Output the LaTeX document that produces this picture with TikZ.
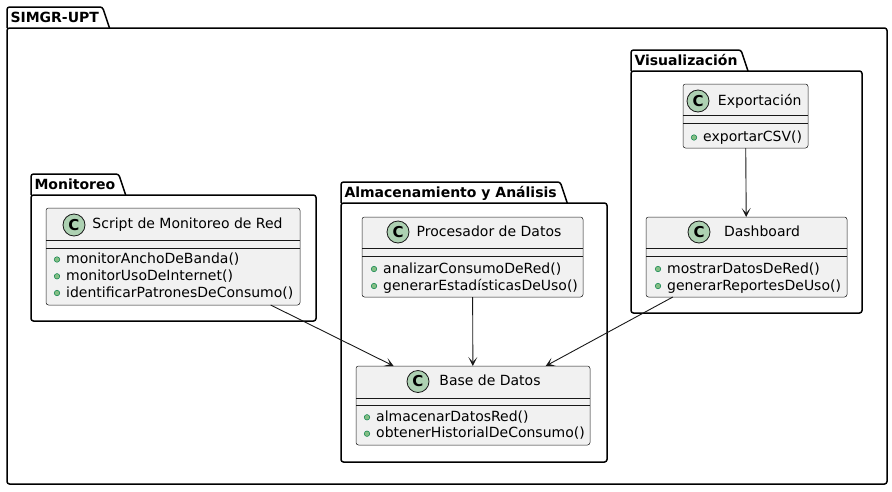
\documentclass[tikz,border=0pt]{standalone}
\usepackage{fontspec}
\setmainfont{DejaVu Sans}
\usepackage{tikz}
\usetikzlibrary{arrows.meta,positioning,calc}
\definecolor{umlBorde}{HTML}{181818}
\definecolor{umlFondo}{HTML}{F1F1F1}
\definecolor{umlInsignia}{HTML}{ADD1B2}
\definecolor{umlPublico}{HTML}{84BE84}
\definecolor{umlPublicoBorde}{HTML}{038048}
\tikzset{
  paquete/.style={draw=black, line width=1.5pt, rounded corners=2.5pt, outer sep=0pt, inner sep=0pt},
  etiqueta/.style={anchor=south west, font=\fontsize{14}{16}\selectfont\bfseries, inner xsep=3.5pt, inner ysep=0pt, minimum height=21pt, text height=10.2pt, text depth=0pt, outer sep=0pt},
  pestana/.style={draw=black, line width=1.5pt, rounded corners=2.5pt},
  clase/.style={draw=umlBorde, line width=0.5pt, fill=umlFondo, rounded corners=2.5pt, inner sep=0pt, outer sep=0pt},
  separador/.style={draw=umlBorde, line width=0.5pt},
  insignia/.style={circle, draw=umlBorde, line width=0.8pt, fill=umlInsignia, minimum size=22pt, inner sep=0pt, font=\fontsize{15}{15}\selectfont\bfseries},
  titulo/.style={font=\fontsize{14}{16}\selectfont, inner sep=0pt, text height=10.5pt, text depth=2.5pt},
  publico/.style={circle, draw=umlPublicoBorde, line width=0.5pt, fill=umlPublico, minimum size=5.5pt, inner sep=0pt, xshift=-6pt},
  metodo/.style={anchor=west, font=\fontsize{14}{16}\selectfont, inner sep=0pt, text height=10.5pt, text depth=2.5pt, label={[publico]left:{}}},
  arrflow/.style={draw=umlBorde, line width=0.9pt, -{Stealth[length=9pt, width=9pt, inset=5pt]}},
}
\begin{document}
\begin{tikzpicture}[x=1pt, y=-1pt]
\useasboundingbox (0,0) rectangle (892,491);
% paquetes
\node[paquete, minimum width=880pt, minimum height=456pt] (simgr) at (447,256) {};
\node[etiqueta] (simgr-lbl) at (simgr.north west) {SIMGR-UPT};
\draw[pestana] (simgr-lbl.south west) -- (simgr-lbl.north west) -- (simgr-lbl.north east) -- ([xshift=7pt]simgr-lbl.south east);
\node[paquete, minimum width=285pt, minimum height=126pt] (monitoreo) at (173.5,258) {};
\node[etiqueta] (monitoreo-lbl) at (monitoreo.north west) {Monitoreo};
\draw[pestana] (monitoreo-lbl.south west) -- (monitoreo-lbl.north west) -- (monitoreo-lbl.north east) -- ([xshift=7pt]monitoreo-lbl.south east);
\node[paquete, minimum width=266pt, minimum height=259pt] (almacen) at (474,332.5) {};
\node[etiqueta] (almacen-lbl) at (almacen.north west) {Almacenamiento y Análisis};
\draw[pestana] (almacen-lbl.south west) -- (almacen-lbl.north west) -- (almacen-lbl.north east) -- ([xshift=7pt]almacen-lbl.south east);
\node[paquete, minimum width=231pt, minimum height=242pt] (visual) at (746.5,192) {};
\node[etiqueta] (visual-lbl) at (visual.north west) {Visualización};
\draw[pestana] (visual-lbl.south west) -- (visual-lbl.north west) -- (visual-lbl.north east) -- ([xshift=7pt]visual-lbl.south east);

% clases
\node[clase, minimum width=254pt, minimum height=97pt] (script) at (173,256.5) {};
\draw[separador] ([yshift=-32pt]script.north west) -- ([yshift=-32pt]script.north east);
\draw[separador] ([yshift=-40pt]script.north west) -- ([yshift=-40pt]script.north east);
\node[insignia] (script-c) at (74,225) {C};
\node[titulo] (script-t) at (187.5,224.5) {Script de Monitoreo de Red};
\node[metodo] (script-m1) at (66,259.5) {monitorAnchoDeBanda()};
\node[metodo] (script-m2) at (66,276.3) {monitorUsoDeInternet()};
\node[metodo] (script-m3) at (66,293) {identificarPatronesDeConsumo()};

\node[clase, minimum width=221pt, minimum height=80pt] (procesador) at (472.5,257) {};
\draw[separador] ([yshift=-31pt]procesador.north west) -- ([yshift=-31pt]procesador.north east);
\draw[separador] ([yshift=-39pt]procesador.north west) -- ([yshift=-39pt]procesador.north east);
\node[insignia] (procesador-c) at (398,232) {C};
\node[titulo] (procesador-t) at (489,232) {Procesador de Datos};
\node[metodo] (procesador-m1) at (383,269) {analizarConsumoDeRed()};
\node[metodo] (procesador-m2) at (383,286) {generarEstadísticasDeUso()};

\node[clase, minimum width=234pt, minimum height=79pt] (base) at (473,405.5) {};
\draw[separador] ([yshift=-32pt]base.north west) -- ([yshift=-32pt]base.north east);
\draw[separador] ([yshift=-39.5pt]base.north west) -- ([yshift=-39.5pt]base.north east);
\node[insignia] (base-c) at (418,381.5) {C};
\node[titulo] (base-t) at (490,381.5) {Base de Datos};
\node[metodo] (base-m1) at (376,417.3) {almacenarDatosRed()};
\node[metodo] (base-m2) at (376,433.7) {obtenerHistorialDeConsumo()};

\node[clase, minimum width=125pt, minimum height=64pt] (exportacion) at (745.5,116) {};
\draw[separador] ([yshift=-31.7pt]exportacion.north west) -- ([yshift=-31.7pt]exportacion.north east);
\draw[separador] ([yshift=-39.3pt]exportacion.north west) -- ([yshift=-39.3pt]exportacion.north east);
\node[insignia] (exportacion-c) at (698,101) {C};
\node[titulo] (exportacion-t) at (759.7,101) {Exportación};
\node[metodo] (exportacion-m1) at (703,137.5) {exportarCSV()};

\node[clase, minimum width=201pt, minimum height=80pt] (dashboard) at (746.5,257) {};
\draw[separador] ([yshift=-31pt]dashboard.north west) -- ([yshift=-31pt]dashboard.north east);
\draw[separador] ([yshift=-39pt]dashboard.north west) -- ([yshift=-39pt]dashboard.north east);
\node[insignia] (dashboard-c) at (699,232) {C};
\node[titulo] (dashboard-t) at (762,232) {Dashboard};
\node[metodo] (dashboard-m1) at (667,269) {mostrarDatosDeRed()};
\node[metodo] (dashboard-m2) at (667,286) {generarReportesDeUso()};

% relaciones
\draw[arrflow] (exportacion) -- (dashboard);
\draw[arrflow] (procesador) -- (base);
\draw[arrflow] (script) -- (base);
\draw[arrflow] (dashboard) -- (base);
\end{tikzpicture}
\end{document}
